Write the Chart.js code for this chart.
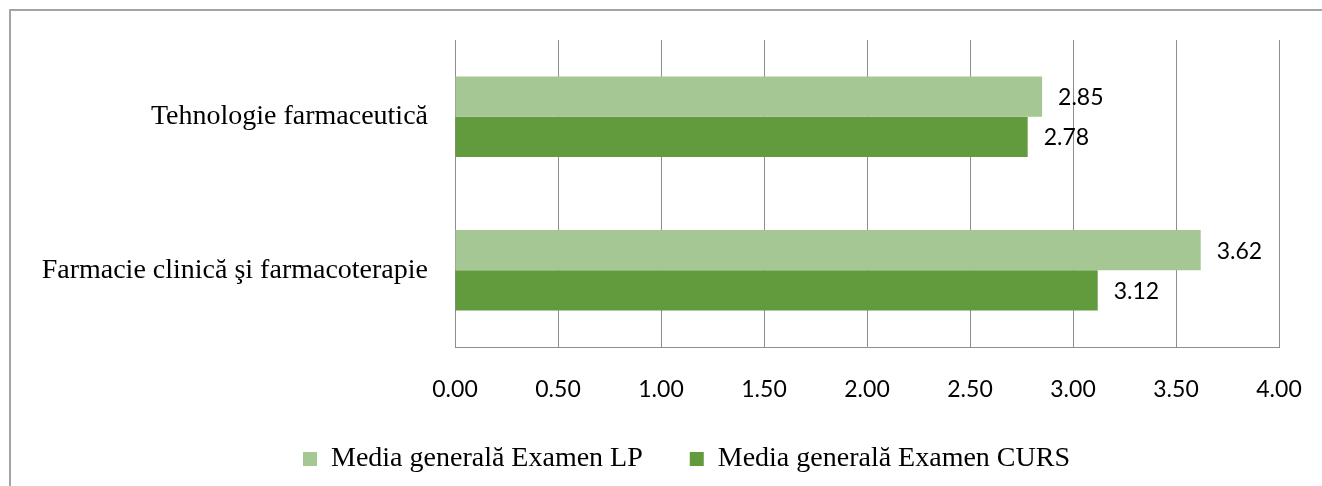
<!DOCTYPE html>
<html>
<head>
<meta charset="utf-8">
<script src="https://cdn.jsdelivr.net/npm/chart.js@4/dist/chart.umd.min.js"></script>
<style>
  body { margin: 0; background: #fff; }
  canvas { display: block; }
</style>
</head>
<body>
<canvas id="mycanvas" width="1322" height="486"></canvas>
<script>
// data
var subjects = ['Tehnologie farmaceutică', 'Farmacie clinică şi farmacoterapie'];
var seriesNames = ['Media generală Examen LP', 'Media generală Examen CURS'];
var lpValues = [2.85, 3.62];
var cursValues = [2.78, 3.12];
var xTicks = [0, 0.5, 1, 1.5, 2, 2.5, 3, 3.5, 4];

var lightGreen = '#a5c794';
var darkGreen = '#629a3e';
var gridGray = '#8e8e8e';

// outer frame like the word-doc chart box
var framePlugin = {
  id: 'frame',
  afterLayout: function(chart) {
    // legend in the original sits a bit right of centre
    chart.legend.left = 94;
  },
  beforeDraw: function(chart) {
    var c = chart.ctx;
    c.save();
    c.strokeStyle = '#a3a3a3';
    c.lineWidth = 2;
    c.beginPath();
    c.moveTo(10, 486);
    c.lineTo(10, 10);
    c.lineTo(1322, 10);
    c.stroke();
    c.restore();
  }
};

// value labels at the end of each bar
var valueLabels = {
  id: 'valueLabels',
  afterDatasetsDraw: function(chart) {
    var c = chart.ctx;
    c.save();
    c.font = '23px Lato';
    c.fillStyle = '#000';
    c.textBaseline = 'middle';
    c.textAlign = 'left';
    chart.data.datasets.forEach(function(ds, i) {
      var meta = chart.getDatasetMeta(i);
      meta.data.forEach(function(bar, j) {
        c.fillText(ds.data[j].toFixed(2), bar.x + 16, bar.y + 1);
      });
    });
    c.restore();
  }
};

var ctx = document.getElementById('mycanvas');

var barGraph = new Chart(ctx, {
  type: 'bar',
  data: {
    labels: subjects,
    datasets: [
      {
        label: seriesNames[0],
        backgroundColor: lightGreen,
        data: lpValues,
        categoryPercentage: 0.525,
        barPercentage: 1
      },
      {
        label: seriesNames[1],
        backgroundColor: darkGreen,
        data: cursValues,
        categoryPercentage: 0.525,
        barPercentage: 1
      }
    ]
  },
  options: {
    indexAxis: 'y',
    responsive: false,
    animation: false,
    layout: { padding: { top: 40, right: 43, left: 0, bottom: 3 } },
    scales: {
      x: {
        min: 0,
        max: 4,
        afterBuildTicks: function(scale) {
          scale.ticks = xTicks.map(function(v) { return { value: v }; });
        },
        afterFit: function(scale) {
          scale.height = 51;
          scale.paddingLeft = 0;
          scale.paddingRight = 0;
        },
        grid: { color: gridGray, lineWidth: 1, drawTicks: false },
        border: { display: true, color: gridGray },
        ticks: {
          padding: 29,
          color: '#000',
          font: { family: 'Lato', size: 23 },
          maxRotation: 0,
          callback: function(v) { return Number(v).toFixed(2); }
        }
      },
      y: {
        afterFit: function(scale) {
          scale.width = 455;
          scale.paddingTop = 0;
          scale.paddingBottom = 0;
        },
        grid: { display: false, drawTicks: false },
        border: { display: true, color: gridGray },
        ticks: {
          padding: 27,
          color: '#000',
          font: { family: 'Liberation Serif', size: 28 }
        }
      }
    },
    plugins: {
      legend: {
        position: 'bottom',
        labels: {
          boxWidth: 14,
          boxHeight: 14,
          padding: 47,
          color: '#000',
          font: { family: 'Liberation Serif', size: 28 }
        }
      },
      tooltip: { enabled: false }
    }
  },
  plugins: [framePlugin, valueLabels]
});
</script>
</body>
</html>
